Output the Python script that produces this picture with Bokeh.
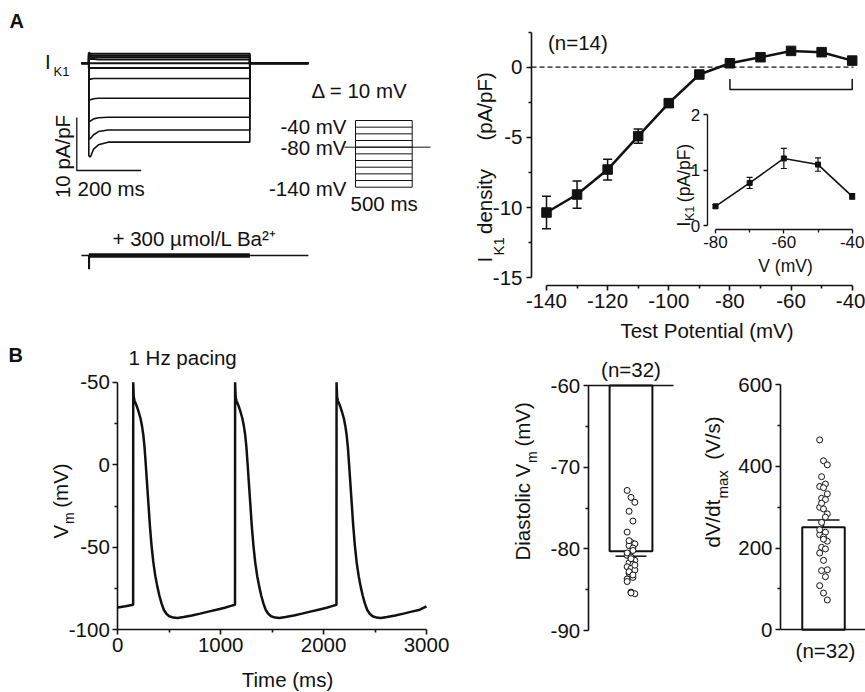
from bokeh.plotting import figure
from bokeh.models import (Range1d, LinearAxis, FixedTicker, Whisker, TeeHead,
                          Label, ColumnDataSource)
from bokeh.layouts import row, column
from bokeh.embed import file_html
from bokeh.resources import INLINE

FONT = "Liberation Sans"
FS = "20.5px"
FS_IN = "17.5px"
INK = "#111111"
UP = 1.5707963267948966
NB = "\u00a0"

# ---------------- data ----------------
# Panel A, left: I_K1 current traces (pA/pF) vs time (ms) for each test step
step_potentials = [-140, -130, -120, -110, -100, -90, -80, -70, -60, -50, -40]
trace_time = [-23, 0, 0, 5, 15, 30, 60, 500, 500, 682]
trace_m140 = [0, 0, -17.5, -17.7, -16.2, -15.4, -14.9, -14.9, 0, 0]
trace_m130 = [0, 0, -14.3, -14.2, -13.5, -12.9, -12.6, -12.6, 0, 0]
trace_m120 = [0, 0, -11.0, -10.9, -10.5, -10.3, -10.2, -10.2, 0, 0]
trace_m110 = [0, 0, -7.0, -6.9, -6.7, -6.6, -6.6, -6.6, 0, 0]
trace_m100 = [0, 0, -3.1, -3.0, -2.9, -2.9, -2.9, -2.9, 0, 0]
trace_m90 = [0, 0, -1.0, -0.9, -0.9, -0.9, -0.9, -0.9, 0, 0]
trace_m80 = [0, 0, 0, 0, 0, 0, 0, 0, 0, 0]
trace_m70 = [0, 0, 1.0, 0.8, 0.8, 0.7, 0.7, 0.7, 0, 0]
trace_m60 = [0, 0, 1.4, 1.2, 1.1, 1.1, 1.1, 1.1, 0, 0]
trace_m50 = [0, 0, 1.7, 1.5, 1.4, 1.4, 1.4, 1.4, 0, 0]
trace_m40 = [0, 0, 2.0, 1.8, 1.8, 1.8, 1.8, 1.8, 0, 0]
ba_time = [-23, 0, 0, 1.5, 1.5, 682]
ba_current = [0, 0, -2.5, -2.5, 0, 0]
ba_noise_time = [0, 500]
ba_noise_current = [0, 0]
step_time = [0, 500]
holding_mv = -80
holding_time = [-97, 661]
scale_current = 10   # pA/pF
scale_time = 200     # ms

# Panel A, right: I-V relation
iv_v = [-140, -130, -120, -110, -100, -90, -80, -70, -60, -50, -40]
iv_i = [-10.35, -9.07, -7.29, -4.91, -2.56, -0.52, 0.28, 0.71, 1.16, 1.07, 0.47]
iv_sem = [1.16, 0.97, 0.74, 0.50, 0.25, 0.15, 0.10, 0.10, 0.10, 0.10, 0.10]
inset_v = [-80, -70, -60, -50, -40]
inset_i = [0.35, 0.77, 1.21, 1.10, 0.53]
inset_sem = [0.03, 0.10, 0.18, 0.12, 0.05]
iv_x_ticks = [-140, -120, -100, -80, -60, -40]
iv_x_labels = ["-140", "-120", "-100", "-80", "-60", "-40"]
iv_y_ticks = [-15, -10, -5, 0]
iv_y_labels = ["-15", "-10", "-5", "0"]
in_x_ticks = [-80, -60, -40]
in_x_labels = ["-80", "-60", "-40"]
in_y_ticks = [0, 1, 2]
in_y_labels = ["0", "1", "2"]

# Panel B, left: action potentials at 1 Hz
ap_time = [0, 75, 149,
           150, 155, 162, 175, 190, 205, 221, 235, 248, 260, 272, 285, 298, 312, 328, 345, 365,
           385, 405, 425, 448, 472, 500, 540, 580, 640, 720, 800, 880, 960, 1040, 1100, 1139,
           1140, 1145, 1152, 1165, 1180, 1195, 1211, 1225, 1238, 1250, 1262, 1275, 1288, 1302, 1318,
           1335, 1355, 1375, 1395, 1415, 1438, 1462, 1490, 1530, 1570, 1630, 1710, 1790, 1870, 1950,
           2030, 2090, 2125,
           2126, 2131, 2138, 2151, 2166, 2181, 2197, 2211, 2224, 2236, 2248, 2261, 2274, 2288, 2304,
           2321, 2341, 2361, 2381, 2401, 2424, 2448, 2476, 2516, 2556, 2616, 2696, 2776, 2856, 2936, 3000]
ap_vm = [-86.5, -85.7, -84.8,
         50, 41, 39, 37, 34.5, 31.5, 28, 23.5, 18, 10.5, 0, -12, -24, -37, -49, -59, -67.5,
         -74, -79.5, -84, -88, -90.3, -91.8, -92.6, -92.8, -92.3, -91.3, -90.2, -89, -87.8, -86.6, -85.5, -84.8,
         50, 41, 39, 37, 34.5, 31.5, 28, 23.5, 18, 10.5, 0, -12, -24, -37, -49,
         -59, -67.5, -74, -79.5, -84, -88, -90.3, -91.8, -92.6, -92.8, -92.3, -91.3, -90.2, -89, -87.8,
         -86.6, -85.5, -84.8,
         50, 41, 39, 37, 34.5, 31.5, 28, 23.5, 18, 10.5, 0, -12, -24, -37, -49,
         -59, -67.5, -74, -79.5, -84, -88, -90.3, -91.8, -92.6, -92.8, -92.3, -91.3, -90.2, -89, -87.8, -85.8]
ap_x_ticks = [0, 1000, 2000, 3000]
ap_x_labels = ["0", "1000", "2000", "3000"]
ap_y_ticks = [-100, -50, 0, 50]
ap_y_labels = ["-100", "-50", "0", "-50"]

# Panel B, bars
vm_base = -60
vm_mean = -80.3
vm_sem = 0.6
vm_points = [-72.85, -73.7, -74.3, -75.4, -76.6, -77.95, -79.2, -79.4, -79.6, -79.9, -80.8,
             -81.0, -81.4, -81.7, -81.9, -82.2, -82.4, -82.6, -83.0, -83.5, -83.7, -85.3,
             -85.5, -79.0, -80.2, -80.5, -81.2, -82.0, -82.8, -83.2, -84.0, -85.4]
vm_ticks = [-90, -80, -70, -60]
vm_labels = ["-90", "-80", "-70", "-60"]
dvdt_mean = 251
dvdt_sem = 18
dvdt_points = [465, 414, 404, 375, 357, 351, 348, 333, 322, 319, 300, 296, 284, 263, 239, 233,
               227, 217, 202, 198, 188, 170, 147, 145, 130, 108, 90, 73, 310, 276, 245, 222]
dvdt_ticks = [0, 200, 400, 600]
dvdt_labels = ["0", "200", "400", "600"]


# ---------------- helpers ----------------
def lin(pa_, va, pb, vb):
    k = (vb - va) / (pb - pa_)
    return lambda px: va + (px - pa_) * k


def style_axis(ax, fs=FS, tick_out=5, minor_out=3, standoff=3, lw=1.6):
    ax.axis_line_width = lw
    ax.axis_line_color = INK
    ax.major_tick_line_width = lw
    ax.major_tick_line_color = INK
    ax.minor_tick_line_width = lw
    ax.minor_tick_line_color = INK
    ax.major_tick_in = 0
    ax.major_tick_out = tick_out
    ax.minor_tick_in = 0
    ax.minor_tick_out = minor_out
    ax.major_label_text_font = FONT
    ax.major_label_text_font_size = fs
    ax.major_label_text_color = INK
    ax.major_label_standoff = standoff


def ticker(ticks, labels, minor=()):
    return FixedTicker(ticks=list(ticks), minor_ticks=list(minor)), dict(zip(ticks, labels))


def canvas_fig(x0, x1, y0, y1, fx, fy):
    """Figure whose frame is the whole canvas (page px x0..x1, y0..y1)."""
    p = figure(width=int(x1 - x0), height=int(y1 - y0),
               x_range=Range1d(fx(x0), fx(x1)), y_range=Range1d(fy(y1), fy(y0)),
               min_border_left=0, min_border_right=0, min_border_top=0, min_border_bottom=0,
               output_backend="svg", toolbar_location=None, title=None)
    p.outline_line_color = None
    p.xgrid.visible = False
    p.ygrid.visible = False
    return p


def lab(p, x, y, text, size=FS, align="left", baseline="middle", angle=0.0, bold=False, **kw):
    p.add_layout(Label(x=x, y=y, text=text, text_font=FONT, text_font_size=size,
                       text_color=INK, text_align=align, text_baseline=baseline, angle=angle,
                       text_font_style="bold" if bold else "normal", **kw))


def vlabel(p, fx, fy, pieces):
    # pieces: (text, size, baseline page-x, start page-y); text runs upward
    for text, size, bx, sy in pieces:
        lab(p, fx(bx), fy(sy), text, size=size, baseline="alphabetic", angle=UP)


# ---------------- Panel A left: traces ----------------
tA = lin(88.3, 0, 249.3, 500)          # ms
iA = lin(62.7, 0, 115.7, -10)          # pA/pF
iBa = lin(255.0, 0, 308.0, -10)
tP = lin(355.0, 0, 411.7, 500)
vP = lin(120.0, -40, 186.7, -140)

pa = canvas_fig(0, 460, 0, 342, tA, iA)
pa.xaxis.visible = False
pa.yaxis.visible = False
pa.extra_y_ranges = {"ba": Range1d(iBa(342), iBa(0)), "pv": Range1d(vP(342), vP(0))}
pa.extra_x_ranges = {"pt": Range1d(tP(0), tP(460))}

for tr in [trace_m40, trace_m50, trace_m60, trace_m70, trace_m80, trace_m90]:
    pa.line(trace_time, tr, line_width=2.0, line_color=INK)
for tr in [trace_m100, trace_m110, trace_m120, trace_m130, trace_m140]:
    pa.line(trace_time, tr, line_width=1.6, line_color=INK)

pa.line(ba_time, ba_current, y_range_name="ba", line_width=1.6, line_color=INK)
pa.line(ba_noise_time, ba_noise_current, y_range_name="ba", line_width=4.5, line_color=INK)

for v in step_potentials:
    pa.line(step_time, [v, v], x_range_name="pt", y_range_name="pv", line_width=1, line_color=INK)
for t in step_time:
    pa.line([t, t], [min(step_potentials), max(step_potentials)], x_range_name="pt",
            y_range_name="pv", line_width=1, line_color=INK)
pa.line(holding_time, [holding_mv, holding_mv], x_range_name="pt", y_range_name="pv",
        line_width=1, line_color=INK)

sbx, sby = tA(76.3), iA(170)
pa.line([sbx, sbx, sbx + scale_time], [sby + scale_current, sby, sby], line_width=1.3, line_color=INK)

lab(pa, tA(9), iA(20), "A", bold=True, size="20px")
lab(pa, tA(44.5), iA(61), "I")
lab(pa, tA(53), iA(71), "K1", size="13px")
lab(pa, tA(62), iA(156), "10 pA/pF", align="center", angle=UP)
lab(pa, tA(77), iA(188), "200 ms")
lab(pa, tA(311), iA(90), "Δ = 10 mV")
lab(pa, tA(346), iA(126), "-40 mV", align="right")
lab(pa, tA(346), iA(146.7), "-80 mV", align="right")
lab(pa, tA(346), iA(188), "-140 mV", align="right")
lab(pa, tA(350), iA(203), "500 ms")
lab(pa, tA(112), iA(238), "+ 300 µmol/L Ba²⁺")

# ---------------- Panel A right: I-V ----------------
xIV = lin(546.0, -140, 851.7, -40)
yIV = lin(66.7, 0, 277.3, -15)
xIN = lin(715.0, -80, 851.7, -40)
yIN = lin(225.3, 0, 114.0, 2)

p2 = canvas_fig(460, 865, 0, 342, xIV, yIV)
p2.extra_x_ranges = {"ix": Range1d(xIN(460), xIN(865))}
p2.extra_y_ranges = {"iy": Range1d(yIN(342), yIN(0))}

xa = p2.xaxis[0]
style_axis(xa, standoff=3)
xa.ticker, xa.major_label_overrides = ticker(iv_x_ticks, iv_x_labels, [-130, -110, -90, -70, -50])
xa.bounds = (-140, -40)
xa.fixed_location = yIV(285)
ya = p2.yaxis[0]
style_axis(ya, standoff=4)
ya.ticker, ya.major_label_overrides = ticker(iv_y_ticks, iv_y_labels, [-12.5, -7.5, -2.5, 2.5])
ya.bounds = (-15, 2.5)
ya.fixed_location = xIV(531)

p2.line([xIV(531), xIV(853)], [0, 0], line_color=INK, line_width=1.3, line_dash="5 3")
br_lo, br_hi = yIV(89), yIV(78.5)
p2.line([inset_v[0], inset_v[0], inset_v[-1], inset_v[-1]], [br_hi, br_lo, br_lo, br_hi],
        line_width=1.5, line_color=INK)

iv_src = ColumnDataSource(dict(x=iv_v, y=iv_i,
                               lo=[a - b for a, b in zip(iv_i, iv_sem)],
                               hi=[a + b for a, b in zip(iv_i, iv_sem)]))
p2.add_layout(Whisker(source=iv_src, base="x", lower="lo", upper="hi", dimension="height",
                      line_width=1.5, line_color=INK, level="underlay",
                      upper_head=TeeHead(size=9, line_width=1.5, line_color=INK),
                      lower_head=TeeHead(size=9, line_width=1.5, line_color=INK)))
p2.line("x", "y", source=iv_src, line_width=2.5, line_color=INK)
p2.scatter("x", "y", source=iv_src, marker="square", size=9.5, color=INK)

in_src = ColumnDataSource(dict(x=inset_v, y=inset_i,
                               lo=[a - b for a, b in zip(inset_i, inset_sem)],
                               hi=[a + b for a, b in zip(inset_i, inset_sem)]))
p2.add_layout(Whisker(source=in_src, base="x", lower="lo", upper="hi", dimension="height",
                      x_range_name="ix", y_range_name="iy",
                      line_width=1.2, line_color=INK, level="underlay",
                      upper_head=TeeHead(size=6, line_width=1.2, line_color=INK),
                      lower_head=TeeHead(size=6, line_width=1.2, line_color=INK)))
p2.line("x", "y", source=in_src, x_range_name="ix", y_range_name="iy", line_width=1.6, line_color=INK)
p2.scatter("x", "y", source=in_src, x_range_name="ix", y_range_name="iy", marker="square",
           size=5, color=INK)

iya = LinearAxis(x_range_name="ix", y_range_name="iy", fixed_location=xIN(706.7), bounds=(0, 2))
style_axis(iya, fs="17px", tick_out=4, minor_out=2, standoff=3, lw=1.3)
iya.ticker, iya.major_label_overrides = ticker(in_y_ticks, in_y_labels)
p2.add_layout(iya, "left")
ixa = LinearAxis(x_range_name="ix", y_range_name="iy", fixed_location=yIN(228.7), bounds=(-80, -40))
style_axis(ixa, fs="17px", tick_out=4, minor_out=3, standoff=3, lw=1.3)
ixa.ticker, ixa.major_label_overrides = ticker(in_x_ticks, in_x_labels, [-70, -50])
p2.add_layout(ixa, "below")

lab(p2, xIV(547.5), yIV(41.7), "(n=14)")
lab(p2, xIV(706.5), yIV(330), "Test Potential (mV)", align="center")
lab(p2, xIV(785), yIV(265), "V (mV)", size=FS_IN, align="center")
vlabel(p2, xIV, yIV, [("I" + NB * 4 + "density" + NB * 5 + "(pA/pF)", FS, 483.5, 262),
                      ("K1", "15px", 498, 255)])
vlabel(p2, xIV, yIV, [("I" + NB * 4 + "(pA/pF)", FS_IN, 683, 226),
                      ("K1", "12.5px", 689, 220.5)])

# ---------------- Panel B left: action potentials ----------------
xB1 = lin(117.3, 0, 426.0, 3000)
yB1 = lin(629.3, -100, 381.7, 50)
p3 = canvas_fig(0, 470, 342, 692, xB1, yB1)
xa = p3.xaxis[0]
style_axis(xa, standoff=3)
xa.ticker, xa.major_label_overrides = ticker(ap_x_ticks, ap_x_labels, [500, 1500, 2500])
xa.bounds = (0, 3000)
xa.fixed_location = -100
ya = p3.yaxis[0]
style_axis(ya, standoff=3)
ya.ticker, ya.major_label_overrides = ticker(ap_y_ticks, ap_y_labels, [-75, -25, 25])
ya.bounds = (-100, 50)
ya.fixed_location = 0
p3.line(ap_time, ap_vm, line_width=2.5, line_color=INK)
lab(p3, xB1(8), yB1(343), "B", bold=True, size="20px", baseline="top")
lab(p3, xB1(128), yB1(357), "1 Hz pacing")
lab(p3, xB1(287), yB1(679), "Time (ms)", align="center")
vlabel(p3, xB1, yB1, [("V" + NB * 3 + "(mV)", FS, 60, 538), ("m", "14px", 68, 523.5)])

# ---------------- Panel B middle: diastolic Vm ----------------
jit = [-0.09, 0.0, 0.09, -0.045, 0.045]
xB2 = lin(587.7, 0, 673.3, 2)
yB2 = lin(385.0, -60, 630.0, -90)
p4 = canvas_fig(470, 695, 342, 692, xB2, yB2)
xa = p4.xaxis[0]
style_axis(xa)
xa.ticker = FixedTicker(ticks=[])
xa.bounds = (0, 2)
xa.fixed_location = vm_base
ya = p4.yaxis[0]
style_axis(ya, standoff=3)
ya.ticker, ya.major_label_overrides = ticker(vm_ticks, vm_labels, [-85, -75, -65])
ya.bounds = (-90, -60)
ya.fixed_location = 0
p4.vbar(x=[1], bottom=[vm_mean], top=[vm_base], width=1.0, fill_color="white",
        line_color=INK, line_width=2)
p4.add_layout(Whisker(source=ColumnDataSource(dict(b=[1], lo=[vm_mean - vm_sem], hi=[vm_mean])),
                      base="b", lower="lo", upper="hi", dimension="height", line_width=1.5,
                      line_color=INK, upper_head=None,
                      lower_head=TeeHead(size=31, line_width=1.5, line_color=INK)))
p4.scatter([1 + jit[i % 5] for i in range(len(vm_points))], vm_points, marker="circle", size=6,
           fill_color="white", line_color=INK, line_width=1)
lab(p4, 1, yB2(369), "(n=32)", align="center")
vlabel(p4, xB2, yB2, [("Diastolic V" + NB * 3 + "(mV)", FS, 522, 560),
                      ("m", "14px", 531, 462.5)])

# ---------------- Panel B right: dV/dt max ----------------
xB3 = lin(823.0, 1, 865.5, 2)
yB3 = lin(629.3, 0, 384.3, 600)
p5 = canvas_fig(695, 865, 342, 692, xB3, yB3)
xa = p5.xaxis[0]
style_axis(xa)
xa.ticker = FixedTicker(ticks=[])
xa.bounds = (xB3(780), xB3(866))
xa.fixed_location = 0
ya = p5.yaxis[0]
style_axis(ya, standoff=3)
ya.ticker, ya.major_label_overrides = ticker(dvdt_ticks, dvdt_labels, [100, 300, 500])
ya.bounds = (0, 600)
ya.fixed_location = xB3(780)
p5.vbar(x=[1], bottom=[0], top=[dvdt_mean], width=1.0, fill_color="white",
        line_color=INK, line_width=2)
p5.add_layout(Whisker(source=ColumnDataSource(dict(b=[1], lo=[dvdt_mean], hi=[dvdt_mean + dvdt_sem])),
                      base="b", lower="lo", upper="hi", dimension="height", line_width=1.5,
                      line_color=INK, lower_head=None,
                      upper_head=TeeHead(size=32, line_width=1.5, line_color=INK)))
p5.scatter([1 + jit[i % 5] for i in range(len(dvdt_points))], dvdt_points, marker="circle", size=6,
           fill_color="white", line_color=INK, line_width=1)
lab(p5, xB3(825), yB3(650), "(n=32)", align="center")
vlabel(p5, xB3, yB3, [("dV/dt" + NB * 7 + "(V/s)", FS, 712, 547),
                      ("max", "15px", 722, 498)])

layout = column(row(pa, p2), row(p3, p4, p5))
open("out.html", "w").write(file_html(layout, INLINE))
